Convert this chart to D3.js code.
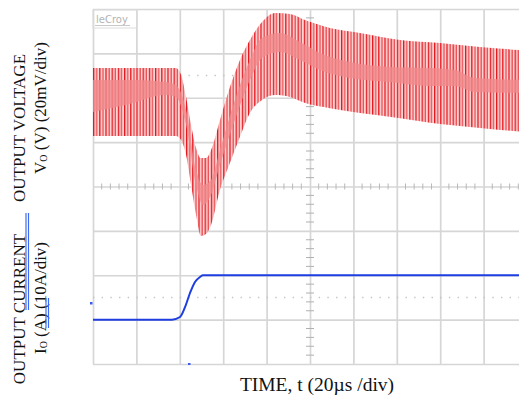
<!DOCTYPE html>
<html>
<head>
<meta charset="utf-8">
<script src="https://cdn.jsdelivr.net/npm/d3@7"></script>
<style>
  body { margin: 0; background: #fff; }
  text { font-family: "Liberation Serif", "Times New Roman", serif; fill: #111; }
</style>
</head>
<body>
<svg id="scope" width="519" height="399"></svg>
<script>
// output voltage ripple envelope (mV, relative), time in us
const envTime = [0, 38.2, 40.6, 42.9, 45.2, 47.5, 49.8, 52.1, 54.4, 58.5, 63.1, 67.7, 72.3, 77.9, 83.9, 90.8, 97.7, 109.2, 123.0, 141.5, 159.9, 178.3, 200];
const envHigh = [53.4, 53.4, 50.3, 40.3, 27.7, 17.4, 12.8, 12.8, 16.4, 29.9, 44.8, 57.0, 66.0, 74.1, 78.2, 77.7, 75.0, 71.4, 69.2, 66.0, 64.7, 62.9, 61.3];
const envLow = [22.8, 22.8, 21.0, 14.2, 0.7, -12.8, -22.3, -21.4, -17.4, -1.6, 10.6, 22.3, 33.1, 39.0, 41.2, 40.3, 37.6, 35.3, 33.1, 30.8, 28.2, 26.4, 24.4];

// denser middle band of the ripple
const bandTime = [0, 17.0, 33.2, 38.2, 42.9, 47.5, 50.7, 54.4, 58.5, 65.4, 72.3, 77.9, 86.2, 95.4, 104.6, 118.4, 136.9, 155.3, 166.8, 176.0, 200];
const bandHigh = [48.0, 48.0, 47.1, 45.7, 34.5, 7.4, 0.7, 2.9, 16.5, 39.0, 57.0, 66.9, 69.2, 65.1, 60.2, 56.1, 53.9, 53.4, 52.5, 48.9, 48.0];
const bandLow = [33.6, 37.2, 41.2, 40.3, 27.7, 0.7, -8.3, -3.8, 9.7, 30.0, 48.0, 57.9, 60.6, 57.0, 52.5, 48.9, 47.1, 45.3, 45.3, 42.6, 42.2];

// output current step (A)
const curTime = [0, 36.4, 40.1, 42.4, 44.7, 47.0, 49.3, 50.7, 200];
const curAmps = [10, 10, 10.6, 12.8, 16.0, 18.5, 19.6, 20, 20];

const cursorLevels = [-50, 50];   // dotted reference lines, mV

const svg = d3.select("#scope");
const plotLeft = 93, plotTop = 9, plotW = 434, plotH = 355;

const x = d3.scaleLinear().domain([0, 200]).range([plotLeft, plotLeft + plotW]);
const yV = d3.scaleLinear().domain([-80, 80]).range([plotTop + plotH, plotTop]);
const yI = d3.scaleLinear().domain([0, 80]).range([plotTop + plotH, plotTop]);

// grid
const gx = svg.append("g")
  .attr("transform", `translate(0,${plotTop + plotH})`)
  .call(d3.axisBottom(x).tickValues(d3.range(0, 201, 20)).tickSize(-plotH).tickFormat(""));
const gy = svg.append("g")
  .attr("transform", `translate(${plotLeft},0)`)
  .call(d3.axisLeft(yV).tickValues(d3.range(-80, 81, 20)).tickSize(-plotW).tickFormat(""));
[gx, gy].forEach(g => {
  g.select(".domain").remove();
  g.selectAll(".tick line").attr("stroke", "#d6d6d6").attr("stroke-width", 1.7);
});

// minor ticks on the centre lines
const minorT = d3.range(0, 201, 4).filter(t => t % 20 !== 0);
svg.append("g").selectAll("line").data(minorT).join("line")
  .attr("x1", d => x(d)).attr("x2", d => x(d))
  .attr("y1", yV(0) - 3).attr("y2", yV(0) + 3)
  .attr("stroke", "#b8b8b8").attr("stroke-width", 1);
const minorV = d3.range(-80, 81, 4).filter(v => v % 20 !== 0);
svg.append("g").selectAll("line").data(minorV).join("line")
  .attr("x1", x(100) - 4).attr("x2", x(100) + 4)
  .attr("y1", d => yV(d)).attr("y2", d => yV(d))
  .attr("stroke", "#b0b0b0").attr("stroke-width", 1);

// dotted cursor lines
svg.append("g").selectAll("line").data(cursorLevels).join("line")
  .attr("x1", plotLeft).attr("x2", plotLeft + plotW)
  .attr("y1", d => yV(d)).attr("y2", d => yV(d))
  .attr("stroke", "#c4c4c4").attr("stroke-width", 1.4)
  .attr("stroke-dasharray", "1.4 7.28");

// LeCroy tag
svg.append("rect").attr("x", 93).attr("y", 10).attr("width", 44).attr("height", 18)
  .attr("fill", "none").attr("stroke", "#dcdcdc");
svg.append("text").attr("x", 96).attr("y", 23)
  .style("font-family", "DejaVu Sans").style("font-size", "10px").style("fill", "#b4b4b4")
  .text("leCroy");
svg.append("line").attr("x1", 95).attr("x2", 130).attr("y1", 25.5).attr("y2", 25.5)
  .attr("stroke", "#c8c8c8");

// ripple texture
const defs = svg.append("defs");
const pat = defs.append("pattern").attr("id", "ripple")
  .attr("patternUnits", "userSpaceOnUse").attr("x", plotLeft).attr("y", 0)
  .attr("width", 6.2).attr("height", 400);
pat.append("rect").attr("width", 6.2).attr("height", 400).attr("fill", "#f9d2d2");
pat.append("rect").attr("x", 0).attr("width", 1.3).attr("height", 400).attr("fill", "#e3131b");
pat.append("rect").attr("x", 3.1).attr("width", 1.3).attr("height", 400).attr("fill", "#ec4a4f");

defs.append("clipPath").attr("id", "plotClip")
  .append("rect").attr("x", plotLeft).attr("y", plotTop).attr("width", plotW).attr("height", plotH);

const trace = svg.append("g").attr("clip-path", "url(#plotClip)");

const envArea = d3.area()
  .x((d, i) => x(envTime[i]))
  .y0((d, i) => yV(envLow[i]))
  .y1((d, i) => yV(envHigh[i]))
  .curve(d3.curveMonotoneX);
trace.append("path").datum(envTime).attr("d", envArea).attr("fill", "url(#ripple)");

const bandArea = d3.area()
  .x((d, i) => x(bandTime[i]))
  .y0((d, i) => yV(bandLow[i]))
  .y1((d, i) => yV(bandHigh[i]))
  .curve(d3.curveMonotoneX);
trace.append("path").datum(bandTime).attr("d", bandArea)
  .attr("fill", "#f08a8c").attr("opacity", 0.8);

// current trace
const curLine = d3.line()
  .x((d, i) => x(curTime[i]))
  .y((d, i) => yI(curAmps[i]))
  .curve(d3.curveMonotoneX);
trace.append("path").datum(curTime).attr("d", curLine)
  .attr("fill", "none").attr("stroke", "#1e3ee0").attr("stroke-width", 2);

// channel markers
svg.append("rect").attr("x", 90).attr("y", 302).attr("width", 2.5).attr("height", 2.5).attr("fill", "#3b5bf0");
svg.append("rect").attr("x", 188).attr("y", 363).attr("width", 2.5).attr("height", 2).attr("fill", "#3b5bf0");

// axis titles
function vLabel(cx, cy, parts) {
  const t = svg.append("text")
    .attr("transform", `translate(${cx},${cy}) rotate(-90)`)
    .attr("text-anchor", "middle")
    .attr("dominant-baseline", "central")
    .style("font-size", "17px");
  parts.forEach(p => {
    const s = t.append("tspan").text(p.text);
    if (p.sub) s.style("font-size", "10px").attr("dy", 3);
    if (p.back) s.attr("dy", -3);
  });
}
vLabel(19, 128, [{ text: "OUTPUT VOLTAGE" }]);
vLabel(40, 108, [{ text: "V" }, { text: "O", sub: true }, { text: " (V) (20mV/div)", back: true }]);
vLabel(19, 309, [{ text: "OUTPUT CURRENT" }]);
vLabel(40, 298, [{ text: "I" }, { text: "O", sub: true }, { text: " (A) (10A/div)", back: true }]);

// blue double underlines
[[26, 213, 310], [28.5, 213, 310], [46, 298, 328], [48.5, 298, 328]].forEach(([lx, a, b]) => {
  svg.append("line").attr("x1", lx).attr("x2", lx).attr("y1", a).attr("y2", b)
    .attr("stroke", "#3d6cf0").attr("stroke-width", 1.2);
});

svg.append("text")
  .attr("x", 317).attr("y", 384)
  .attr("text-anchor", "middle")
  .attr("dominant-baseline", "central")
  .style("font-size", "19.5px")
  .text("TIME, t (20µs /div)");
</script>
</body>
</html>
